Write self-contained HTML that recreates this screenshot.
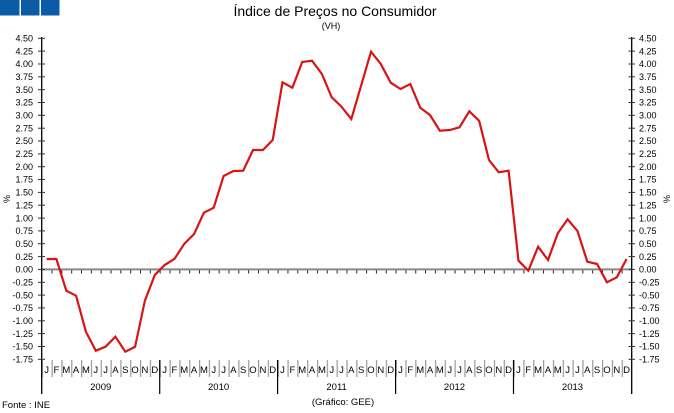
<!DOCTYPE html>
<html><head><meta charset="utf-8"><style>
html,body{margin:0;padding:0;background:#fff;}
svg{display:block;}
text{font-family:"Liberation Sans",sans-serif;fill:#000;}
</style></head><body>
<svg width="674" height="413" viewBox="0 0 674 413" xmlns="http://www.w3.org/2000/svg">
<defs>
<pattern id="msep" x="41.7" y="0" width="9.83" height="413" patternUnits="userSpaceOnUse">
<rect x="0" y="0" width="1.2" height="413" fill="#999"/>
</pattern>
<pattern id="ztick" x="41.7" y="0" width="9.83" height="413" patternUnits="userSpaceOnUse">
<rect x="0" y="0" width="1" height="413" fill="#222"/>
</pattern>
</defs>
<rect x="0" y="0" width="674" height="413" fill="#fff"/>
<!-- blue squares -->
<rect x="0" y="0" width="19.5" height="15.5" fill="#0b5ca6"/>
<rect x="21" y="0" width="18.5" height="15.5" fill="#0b5ca6"/>
<rect x="41" y="0" width="18.5" height="15.5" fill="#0b5ca6"/>
<!-- titles -->
<text x="335" y="16" font-size="14" text-anchor="middle">Índice de Preços no Consumidor</text>
<text x="331" y="29" font-size="9" text-anchor="middle">(VH)</text>
<!-- % labels -->
<text x="0" y="0" font-size="9" text-anchor="middle" transform="translate(10,199) rotate(-90)">%</text>
<text x="0" y="0" font-size="9" text-anchor="middle" transform="translate(670,199) rotate(-90)">%</text>
<!-- month separators -->
<rect x="42" y="360" width="590" height="17" fill="url(#msep)"/>
<!-- zero line ticks -->
<rect x="43" y="270" width="588" height="3.5" fill="url(#ztick)"/>
<!-- zero line -->
<line x1="42" y1="269.4" x2="632" y2="269.4" stroke="#888" stroke-width="2"/>
<!-- year separators -->
<g stroke="#000" stroke-width="1.2">
<line x1="159.7" y1="360" x2="159.7" y2="394"/>
<line x1="277.6" y1="360" x2="277.6" y2="394"/>
<line x1="395.6" y1="360" x2="395.6" y2="394"/>
<line x1="513.5" y1="360" x2="513.5" y2="394"/>
</g>
<!-- axes -->
<line x1="41.7" y1="37" x2="41.7" y2="394" stroke="#000" stroke-width="1.3"/>
<line x1="631.7" y1="37" x2="631.7" y2="394" stroke="#000" stroke-width="1.3"/>
<!-- y ticks -->
<g stroke="#333" stroke-width="1">
<line x1="38" y1="38.3" x2="45" y2="38.3"/><line x1="628.5" y1="38.3" x2="635" y2="38.3"/>
<line x1="38" y1="51.1" x2="45" y2="51.1"/><line x1="628.5" y1="51.1" x2="635" y2="51.1"/>
<line x1="38" y1="64.0" x2="45" y2="64.0"/><line x1="628.5" y1="64.0" x2="635" y2="64.0"/>
<line x1="38" y1="76.8" x2="45" y2="76.8"/><line x1="628.5" y1="76.8" x2="635" y2="76.8"/>
<line x1="38" y1="89.7" x2="45" y2="89.7"/><line x1="628.5" y1="89.7" x2="635" y2="89.7"/>
<line x1="38" y1="102.5" x2="45" y2="102.5"/><line x1="628.5" y1="102.5" x2="635" y2="102.5"/>
<line x1="38" y1="115.3" x2="45" y2="115.3"/><line x1="628.5" y1="115.3" x2="635" y2="115.3"/>
<line x1="38" y1="128.2" x2="45" y2="128.2"/><line x1="628.5" y1="128.2" x2="635" y2="128.2"/>
<line x1="38" y1="141.0" x2="45" y2="141.0"/><line x1="628.5" y1="141.0" x2="635" y2="141.0"/>
<line x1="38" y1="153.9" x2="45" y2="153.9"/><line x1="628.5" y1="153.9" x2="635" y2="153.9"/>
<line x1="38" y1="166.7" x2="45" y2="166.7"/><line x1="628.5" y1="166.7" x2="635" y2="166.7"/>
<line x1="38" y1="179.5" x2="45" y2="179.5"/><line x1="628.5" y1="179.5" x2="635" y2="179.5"/>
<line x1="38" y1="192.4" x2="45" y2="192.4"/><line x1="628.5" y1="192.4" x2="635" y2="192.4"/>
<line x1="38" y1="205.2" x2="45" y2="205.2"/><line x1="628.5" y1="205.2" x2="635" y2="205.2"/>
<line x1="38" y1="218.1" x2="45" y2="218.1"/><line x1="628.5" y1="218.1" x2="635" y2="218.1"/>
<line x1="38" y1="230.9" x2="45" y2="230.9"/><line x1="628.5" y1="230.9" x2="635" y2="230.9"/>
<line x1="38" y1="243.7" x2="45" y2="243.7"/><line x1="628.5" y1="243.7" x2="635" y2="243.7"/>
<line x1="38" y1="256.6" x2="45" y2="256.6"/><line x1="628.5" y1="256.6" x2="635" y2="256.6"/>
<line x1="38" y1="269.4" x2="45" y2="269.4"/><line x1="628.5" y1="269.4" x2="635" y2="269.4"/>
<line x1="38" y1="282.3" x2="45" y2="282.3"/><line x1="628.5" y1="282.3" x2="635" y2="282.3"/>
<line x1="38" y1="295.1" x2="45" y2="295.1"/><line x1="628.5" y1="295.1" x2="635" y2="295.1"/>
<line x1="38" y1="307.9" x2="45" y2="307.9"/><line x1="628.5" y1="307.9" x2="635" y2="307.9"/>
<line x1="38" y1="320.8" x2="45" y2="320.8"/><line x1="628.5" y1="320.8" x2="635" y2="320.8"/>
<line x1="38" y1="333.6" x2="45" y2="333.6"/><line x1="628.5" y1="333.6" x2="635" y2="333.6"/>
<line x1="38" y1="346.5" x2="45" y2="346.5"/><line x1="628.5" y1="346.5" x2="635" y2="346.5"/>
<line x1="38" y1="359.3" x2="45" y2="359.3"/><line x1="628.5" y1="359.3" x2="635" y2="359.3"/>
</g>
<!-- left y labels -->
<g font-size="9" text-anchor="end">
<text x="33" y="41.5">4.50</text><text x="33" y="54.3">4.25</text><text x="33" y="67.2">4.00</text><text x="33" y="80.0">3.75</text>
<text x="33" y="92.9">3.50</text><text x="33" y="105.7">3.25</text><text x="33" y="118.5">3.00</text><text x="33" y="131.4">2.75</text>
<text x="33" y="144.2">2.50</text><text x="33" y="157.1">2.25</text><text x="33" y="169.9">2.00</text><text x="33" y="182.7">1.75</text>
<text x="33" y="195.6">1.50</text><text x="33" y="208.4">1.25</text><text x="33" y="221.3">1.00</text><text x="33" y="234.1">0.75</text>
<text x="33" y="246.9">0.50</text><text x="33" y="259.8">0.25</text><text x="33" y="272.6">0.00</text><text x="33" y="285.5">-0.25</text>
<text x="33" y="298.3">-0.50</text><text x="33" y="311.1">-0.75</text><text x="33" y="324.0">-1.00</text><text x="33" y="336.8">-1.25</text>
<text x="33" y="349.7">-1.50</text><text x="33" y="362.5">-1.75</text>
</g>
<!-- right y labels -->
<g font-size="9" text-anchor="start">
<text x="639" y="41.5">4.50</text><text x="639" y="54.3">4.25</text><text x="639" y="67.2">4.00</text><text x="639" y="80.0">3.75</text>
<text x="639" y="92.9">3.50</text><text x="639" y="105.7">3.25</text><text x="639" y="118.5">3.00</text><text x="639" y="131.4">2.75</text>
<text x="639" y="144.2">2.50</text><text x="639" y="157.1">2.25</text><text x="639" y="169.9">2.00</text><text x="639" y="182.7">1.75</text>
<text x="639" y="195.6">1.50</text><text x="639" y="208.4">1.25</text><text x="639" y="221.3">1.00</text><text x="639" y="234.1">0.75</text>
<text x="639" y="246.9">0.50</text><text x="639" y="259.8">0.25</text><text x="639" y="272.6">0.00</text><text x="639" y="285.5">-0.25</text>
<text x="639" y="298.3">-0.50</text><text x="639" y="311.1">-0.75</text><text x="639" y="324.0">-1.00</text><text x="639" y="336.8">-1.25</text>
<text x="639" y="349.7">-1.50</text><text x="639" y="362.5">-1.75</text>
</g>
<!-- month labels -->
<g font-size="9.5" text-anchor="middle">
<text x="46.6" y="373">J</text><text x="56.4" y="373">F</text><text x="66.3" y="373">M</text><text x="76.1" y="373">A</text><text x="85.9" y="373">M</text><text x="95.8" y="373">J</text>
<text x="105.6" y="373">J</text><text x="115.4" y="373">A</text><text x="125.3" y="373">S</text><text x="135.1" y="373">O</text><text x="144.9" y="373">N</text><text x="154.8" y="373">D</text>
<text x="164.6" y="373">J</text><text x="174.4" y="373">F</text><text x="184.2" y="373">M</text><text x="194.1" y="373">A</text><text x="203.9" y="373">M</text><text x="213.7" y="373">J</text>
<text x="223.6" y="373">J</text><text x="233.4" y="373">A</text><text x="243.2" y="373">S</text><text x="253.0" y="373">O</text><text x="262.9" y="373">N</text><text x="272.7" y="373">D</text>
<text x="282.5" y="373">J</text><text x="292.4" y="373">F</text><text x="302.2" y="373">M</text><text x="312.0" y="373">A</text><text x="321.9" y="373">M</text><text x="331.7" y="373">J</text>
<text x="341.5" y="373">J</text><text x="351.3" y="373">A</text><text x="361.2" y="373">S</text><text x="371.0" y="373">O</text><text x="380.8" y="373">N</text><text x="390.7" y="373">D</text>
<text x="400.5" y="373">J</text><text x="410.3" y="373">F</text><text x="420.2" y="373">M</text><text x="430.0" y="373">A</text><text x="439.8" y="373">M</text><text x="449.7" y="373">J</text>
<text x="459.5" y="373">J</text><text x="469.3" y="373">A</text><text x="479.1" y="373">S</text><text x="489.0" y="373">O</text><text x="498.8" y="373">N</text><text x="508.6" y="373">D</text>
<text x="518.5" y="373">J</text><text x="528.3" y="373">F</text><text x="538.1" y="373">M</text><text x="548.0" y="373">A</text><text x="557.8" y="373">M</text><text x="567.6" y="373">J</text>
<text x="577.5" y="373">J</text><text x="587.3" y="373">A</text><text x="597.1" y="373">S</text><text x="606.9" y="373">O</text><text x="616.8" y="373">N</text><text x="626.6" y="373">D</text>
</g>
<!-- year labels -->
<g font-size="9.5" text-anchor="middle">
<text x="100.7" y="390">2009</text>
<text x="218.6" y="390">2010</text>
<text x="336.6" y="390">2011</text>
<text x="454.5" y="390">2012</text>
<text x="572.5" y="390">2013</text>
</g>
<text x="2" y="408" font-size="9.5">Fonte : INE</text>
<text x="343" y="405" font-size="9.5" text-anchor="middle">(Gráfico: GEE)</text>
<!-- series -->
<polyline fill="none" stroke="#d81414" stroke-width="2.2" stroke-linejoin="miter" points="
46.6,259 56.4,259 66.3,290.7 76.1,295.7 85.9,331.7 95.8,350.7 105.6,346.7 115.4,336.7 125.3,351.7 135.1,346.7 144.9,300.7 154.8,275
164.6,265 174.4,259 184.2,244 194.1,234 203.9,212.7 213.7,207.7 223.6,176 233.4,171 243.2,170.7 253.0,150 262.9,150 272.7,140
282.5,82.3 292.4,87.7 302.2,62 312.0,60.7 321.9,74 331.7,97.3 341.5,106.7 351.3,119 361.2,85.3 371.0,51.7 380.8,64 390.7,82.7
400.5,89 410.3,84 420.2,107.7 430.0,115 439.8,130.7 449.7,130 459.5,127.3 469.3,111.3 479.1,120.7 489.0,160 498.8,172.3 508.6,170.7
518.5,260.7 528.3,270.7 538.1,246.7 548.0,260 557.8,233.3 567.6,219.3 577.5,231 587.3,261.7 597.1,264 606.9,282.3 616.8,277.3 626.6,259"/>
</svg>
</body></html>
